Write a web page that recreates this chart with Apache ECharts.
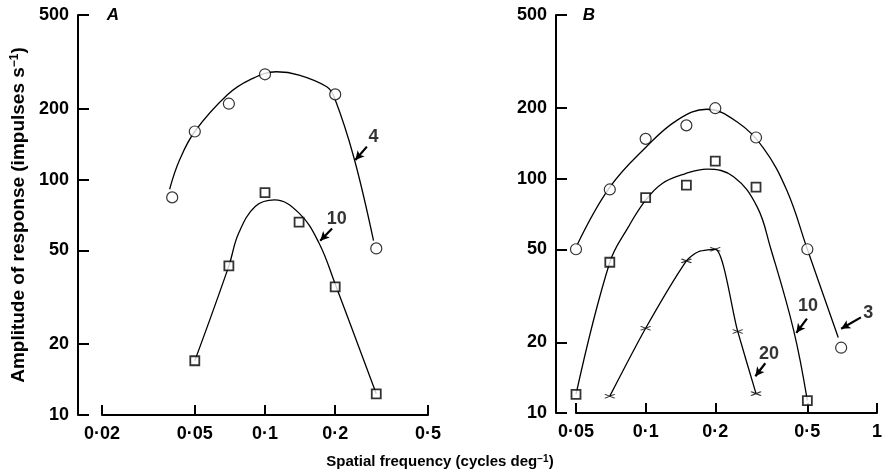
<!DOCTYPE html>
<html>
<head>
<meta charset="utf-8">
<script src="https://cdn.jsdelivr.net/npm/echarts@6/dist/echarts.min.js"></script>
<style>
  html, body { margin: 0; padding: 0; background: #fff; }
  #chart { width: 885px; height: 474px; }
</style>
</head>
<body>
<div id="chart"></div>
<script>
// Panel A: response amplitude vs spatial frequency
const xA_circ = [0.04, 0.05, 0.07, 0.1, 0.2, 0.3];
const yA_circ = [84, 160, 210, 280, 230, 51];
const xA_sq = [0.05, 0.07, 0.1, 0.14, 0.2, 0.3];
const yA_sq = [17, 43, 88, 66, 35, 12.3];
// hand-fitted curves through panel A points
const xA_fit4 = [0.039, 0.043, 0.05, 0.069, 0.086, 0.112, 0.14, 0.184, 0.198, 0.24, 0.292];
const yA_fit4 = [91, 121, 160, 229, 265, 287, 278, 248, 224, 125, 55];
const xA_fit10 = [0.05, 0.07, 0.077, 0.091, 0.11, 0.14, 0.17, 0.2, 0.3];
const yA_fit10 = [17, 43, 59, 77, 82, 72, 54, 36, 12.3];

// Panel B
const xB_circ = [0.05, 0.07, 0.1, 0.15, 0.2, 0.3, 0.5, 0.7];
const yB_circ = [50, 90, 148, 169, 200, 150, 50, 19];
const xB_sq = [0.05, 0.07, 0.1, 0.15, 0.2, 0.3, 0.5];
const yB_sq = [12, 44, 83, 94, 119, 92, 11.3];
const xB_x = [0.07, 0.1, 0.15, 0.2, 0.25, 0.3];
const yB_x = [11.8, 23, 44.6, 50, 22.3, 12.1];
const xB_fit3 = [0.0505, 0.07, 0.1, 0.137, 0.184, 0.248, 0.323, 0.408, 0.5, 0.68];
const yB_fit3 = [52, 92, 136, 178, 198, 175, 135, 89, 50, 21];
const xB_fit10 = [0.05, 0.07, 0.084, 0.1, 0.118, 0.148, 0.184, 0.24, 0.303, 0.346, 0.436, 0.5];
const yB_fit10 = [12, 44, 62, 81, 95.5, 105, 110, 102, 76, 51, 22.6, 11.3];
const xB_fit20 = [0.07, 0.1, 0.15, 0.169, 0.2, 0.25, 0.3];
const yB_fit20 = [11.8, 23, 44.6, 48.8, 50, 22.3, 12.1];

// axis ticks
const yTicks = [10, 20, 50, 100, 200, 500];
const xTicksA = [0.02, 0.05, 0.1, 0.2, 0.5];
const xTicksB = [0.05, 0.1, 0.2, 0.5, 1];

// curve annotations: label text, label position, arrow tail, arrow head
const notesA = [
  { text: '4', at: [0.292, 151], from: [0.2735, 138], to: [0.244, 121] },
  { text: '10', at: [0.203, 68], from: [0.194, 62], to: [0.1725, 55] }
];
const notesB = [
  { text: '10', at: [0.503, 28.6], from: [0.498, 25.3], to: [0.448, 22] },
  { text: '3', at: [0.917, 26.7], from: [0.852, 25.6], to: [0.70, 22.9] },
  { text: '20', at: [0.341, 17.8], from: [0.329, 16.3], to: [0.298, 14.35] }
];

const zip = (xs, ys) => xs.map((x, i) => [x, ys[i]]);
const FONT = '"Liberation Sans", Arial, Helvetica, sans-serif';
const fmtX = v => String(+(+v).toPrecision(6)).replace('.', '\u00b7');
const fmtY = v => String(Math.round(v));

function yAxis(gridIndex, offset, withName) {
  const ax = {
    type: 'log', gridIndex, min: 10, max: 500, offset,
    axisLine: { show: true, lineStyle: { color: '#000', width: 2 } },
    axisTick: { show: true, inside: true, length: 11, lineStyle: { color: '#000', width: 2 }, customValues: yTicks },
    axisLabel: { show: true, margin: 9, color: '#000', fontFamily: FONT, fontWeight: 'bold', fontSize: 18,
                 customValues: yTicks, formatter: fmtY },
    splitLine: { show: false }, minorTick: { show: false }
  };
  if (withName) {
    ax.name = 'Amplitude of response (impulses s{sup|\u22121})';
    ax.nameLocation = 'middle';
    ax.nameRotate = 90;
    ax.nameGap = 50;
    ax.nameTextStyle = {
      color: '#000', fontFamily: FONT, fontWeight: 'bold', fontSize: 19,
      rich: { sup: { fontFamily: FONT, fontWeight: 'bold', fontSize: 12, verticalAlign: 'top', color: '#000' } }
    };
  }
  return ax;
}
function xAxis(gridIndex, min, max, ticks) {
  return {
    type: 'log', gridIndex, min, max,
    axisLine: { show: true, lineStyle: { color: '#000', width: 2 } },
    axisTick: { show: true, inside: true, length: 10, lineStyle: { color: '#000', width: 2 }, customValues: ticks },
    axisLabel: { show: true, margin: 10, color: '#000', fontFamily: FONT, fontWeight: 'bold', fontSize: 18,
                 customValues: ticks, formatter: fmtX },
    splitLine: { show: false }, minorTick: { show: false }
  };
}

const circleStyle = { color: '#fff', borderColor: '#000', borderWidth: 1.2 };
const squareStyle = { color: '#fff', borderColor: '#000', borderWidth: 1.8 };

function fit(idx, xs, ys, smooth) {
  return { type: 'line', xAxisIndex: idx, yAxisIndex: idx, data: zip(xs, ys), smooth,
           showSymbol: false, symbol: 'none', lineStyle: { color: '#000', width: 1.3 }, z: 2, silent: true };
}
function marks(idx, xs, ys, symbol, size, style) {
  return { type: 'scatter', xAxisIndex: idx, yAxisIndex: idx, data: zip(xs, ys), symbol, symbolSize: size,
           itemStyle: style, z: 5, silent: true };
}
function notes(idx, list) {
  return {
    type: 'scatter', xAxisIndex: idx, yAxisIndex: idx, symbolSize: 0, z: 6, silent: true,
    data: list.map(n => ({ value: n.at, name: n.text })),
    label: { show: true, position: 'inside', formatter: p => p.name, color: '#000',
             fontFamily: FONT, fontWeight: 'bold', fontSize: 18 },
    markLine: {
      silent: true, symbol: ['none', 'arrow'], symbolSize: [7, 9],
      lineStyle: { color: '#000', width: 2.2, type: 'solid' }, label: { show: false },
      data: list.map(n => [{ coord: n.from }, { coord: n.to }])
    }
  };
}

const chart = echarts.init(document.getElementById('chart'), null, { renderer: 'canvas' });
chart.setOption({
  animation: false,
  backgroundColor: '#fff',
  grid: [
    { left: 102, top: 15, width: 326, height: 400 },
    { left: 576, top: 15, width: 301, height: 398 }
  ],
  xAxis: [xAxis(0, 0.02, 0.5, xTicksA), xAxis(1, 0.05, 1, xTicksB)],
  yAxis: [yAxis(0, 24, true), yAxis(1, 20, false)],
  graphic: [
    { type: 'text', style: { x: 113, y: 15, text: 'A', align: 'center', verticalAlign: 'middle',
      font: 'italic bold 17px ' + FONT, fill: '#000' } },
    { type: 'text', style: { x: 589, y: 15, text: 'B', align: 'center', verticalAlign: 'middle',
      font: 'italic bold 17px ' + FONT, fill: '#000' } },
    { type: 'text', style: { x: 440, y: 462, text: 'Spatial frequency (cycles deg{sup|\u22121})',
      align: 'center', verticalAlign: 'middle', font: 'bold 15px ' + FONT, fill: '#000',
      rich: { sup: { font: 'bold 10px ' + FONT, fill: '#000', verticalAlign: 'top' } } } }
  ],
  series: [
    fit(0, xA_fit4, yA_fit4, 0.4),
    fit(0, xA_fit10, yA_fit10, 0.4),
    marks(0, xA_circ, yA_circ, 'circle', 11, circleStyle),
    marks(0, xA_sq, yA_sq, 'rect', 9, squareStyle),
    notes(0, notesA),
    fit(1, xB_fit3, yB_fit3, 0.4),
    fit(1, xB_fit10, yB_fit10, 0.4),
    fit(1, xB_fit20, yB_fit20, 0.25),
    marks(1, xB_circ, yB_circ, 'circle', 11, circleStyle),
    marks(1, xB_sq, yB_sq, 'rect', 9, squareStyle),
    marks(1, xB_x, yB_x, 'path://M0,0 L10,4 M0,4 L10,0', [10, 4],
          { color: 'none', borderColor: '#000', borderWidth: 1.2 }),
    notes(1, notesB)
  ]
});
</script>
</body>
</html>
